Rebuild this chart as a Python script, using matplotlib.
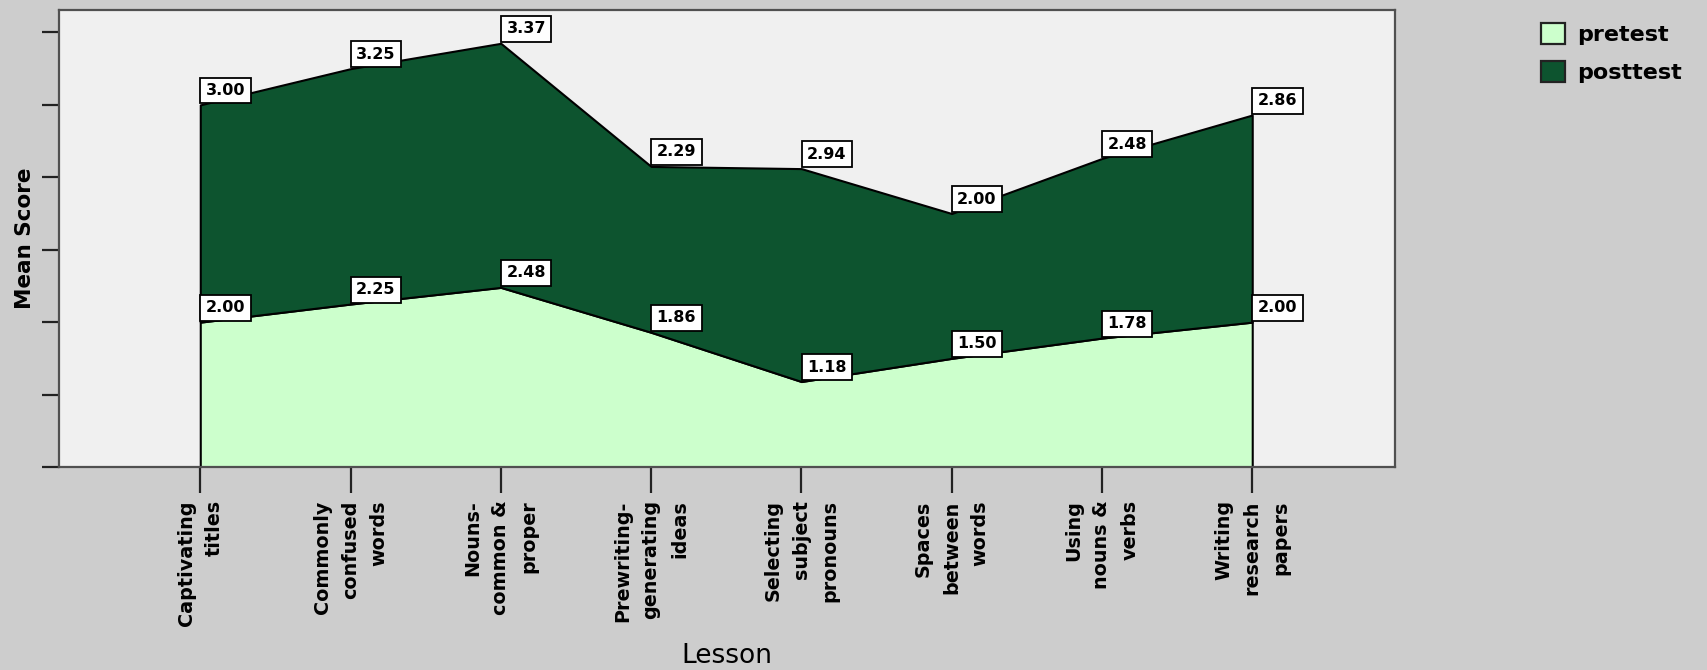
import matplotlib
matplotlib.use('Agg')
import matplotlib.pyplot as plt
from matplotlib.patches import Patch
import numpy as np

lessons = ['Captivating\ntitles', 'Commonly\nconfused\nwords', 'Nouns-\ncommon &\nproper',
           'Prewriting-\ngenerating\nideas', 'Selecting\nsubject\npronouns', 'Spaces\nbetween\nwords',
           'Using\nnouns &\nverbs', 'Writing\nresearch\npapers']
pretest = [2.00, 2.25, 2.48, 1.86, 1.18, 1.50, 1.78, 2.00]
posttest = [3.00, 3.25, 3.37, 2.29, 2.94, 2.00, 2.48, 2.86]

pre_color = '#ccffcc'
post_color = '#0d542f'

fig = plt.figure(figsize=(17.07, 6.70), dpi=100, facecolor='#cdcdcd')
ax = fig.add_axes([59 / 1707, 1 - 467 / 670, (1395 - 59) / 1707, (467 - 10) / 670])
ax.set_facecolor('#f0f0f0')

x = np.arange(len(lessons))
pre = np.array(pretest)
top = pre + np.array(posttest)

ax.fill_between(x, 0, pre, facecolor=pre_color, edgecolor='black', linewidth=1.5, zorder=2)
ax.fill_between(x, pre, top, facecolor=post_color, edgecolor='black', linewidth=1.5, zorder=2)

# value labels sit up-right of each point, like the SPSS boxes
for xi, base, val in zip(x, pre, pretest):
    ax.annotate(f'{val:.2f}', (xi, base), xytext=(4, 5), textcoords='offset points',
                ha='left', va='bottom', fontsize=11.5, fontweight='bold', zorder=5,
                bbox=dict(boxstyle='square,pad=0.34', fc='white', ec='black', lw=1.3))
for xi, t, val in zip(x, top, posttest):
    ax.annotate(f'{val:.2f}', (xi, t), xytext=(4, 5), textcoords='offset points',
                ha='left', va='bottom', fontsize=11.5, fontweight='bold', zorder=5,
                bbox=dict(boxstyle='square,pad=0.34', fc='white', ec='black', lw=1.3))

ax.set_xlim(-0.94, 7.95)
ax.set_ylim(0, 6.31)
ax.set_yticks(range(0, 7))
ax.set_yticklabels([])
ax.set_xticks(x)
ax.set_xticklabels(lessons, rotation=90, fontsize=13.8, fontweight='bold',
                   va='top', ha='center', multialignment='right', linespacing=1.62)
ax.tick_params(axis='y', direction='out', length=12, width=1.6, color='#222222')
ax.tick_params(axis='x', direction='out', length=19, width=1.6, color='#222222', pad=5)
for s in ax.spines.values():
    s.set_color('#505050')
    s.set_linewidth(1.6)

ax.set_ylabel('Mean Score', fontsize=15.5, fontweight='bold')
ax.yaxis.set_label_coords(-0.018, 0.5)
fig.text((59 + 1395) / 2 / 1707, 1 - 656 / 670, 'Lesson', fontsize=19, ha='center', va='center')

handles = [Patch(facecolor=pre_color, edgecolor='#222222', lw=1.6, label='pretest'),
           Patch(facecolor=post_color, edgecolor='#222222', lw=1.6, label='posttest')]
fig.legend(handles=handles, loc='upper left', bbox_to_anchor=(1521 / 1707, 1 - 3 / 670),
           frameon=False, prop={'size': 16, 'weight': 'bold'}, handlelength=1.08, handleheight=1.08,
           handletextpad=0.55, labelspacing=0.72)

fig.savefig('out.png', dpi=100, facecolor=fig.get_facecolor())
